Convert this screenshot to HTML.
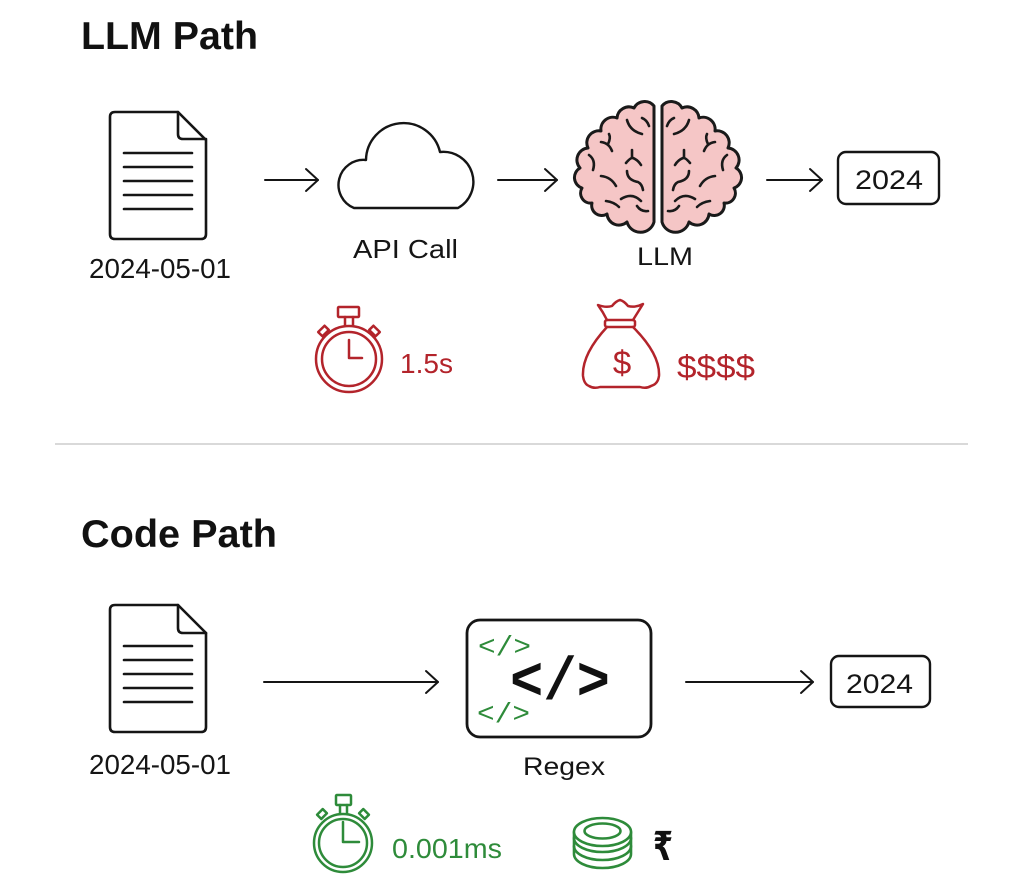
<!DOCTYPE html>
<html>
<head>
<meta charset="utf-8">
<style>
  html,body{margin:0;padding:0;background:#fff;}
  svg{display:block;}
  text{font-family:"Liberation Sans",Arial,sans-serif;}
</style>
</head>
<body>
<svg width="1025" height="888" viewBox="0 0 1025 888" xmlns="http://www.w3.org/2000/svg">
  <rect width="1025" height="888" fill="#ffffff"/>

  <!-- Headings -->
  <text x="81" y="49" font-size="39" font-weight="bold" fill="#111" textLength="177" lengthAdjust="spacingAndGlyphs">LLM Path</text>
  <text x="81" y="547" font-size="39" font-weight="bold" fill="#111" textLength="196" lengthAdjust="spacingAndGlyphs">Code Path</text>

  <!-- Divider -->
  <line x1="55" y1="444" x2="968" y2="444" stroke="#d9d9d9" stroke-width="2"/>

  <!-- ===== LLM PATH ===== -->
  <!-- Document -->
  <g fill="#fff" stroke="#151515" stroke-width="2.6" stroke-linejoin="round" stroke-linecap="round">
    <path d="M110 117 Q110 112 115 112 H178 L206 140 V234 Q206 239 201 239 H115 Q110 239 110 234 Z"/>
    <path d="M178 112 V134 Q178 139 183 139 H206" fill="none"/>
    <g fill="none">
      <line x1="124" y1="153" x2="192" y2="153"/>
      <line x1="124" y1="167" x2="192" y2="167"/>
      <line x1="124" y1="181" x2="192" y2="181"/>
      <line x1="124" y1="195" x2="192" y2="195"/>
      <line x1="124" y1="209" x2="192" y2="209"/>
    </g>
  </g>
  <text x="89" y="278" font-size="28" fill="#151515" textLength="142" lengthAdjust="spacingAndGlyphs">2024-05-01</text>

  <!-- Arrow 1 -->
  <g stroke="#151515" stroke-width="2" fill="none" stroke-linecap="round" stroke-linejoin="round">
    <line x1="265" y1="180" x2="318" y2="180"/>
    <polyline points="306,169 318,180 306,191"/>
  </g>

  <!-- Cloud -->
  <path d="M354 208 H458 A30 30 0 0 0 440 152 A37.5 37.5 0 0 0 366 160 A25 25 0 0 0 354 208 Z"
        fill="#fff" stroke="#151515" stroke-width="2.4" stroke-linejoin="round"/>
  <text x="353" y="258" font-size="26" fill="#151515" textLength="105" lengthAdjust="spacingAndGlyphs">API Call</text>

  <!-- Arrow 2 -->
  <g stroke="#151515" stroke-width="2" fill="none" stroke-linecap="round" stroke-linejoin="round">
    <line x1="498" y1="180" x2="557" y2="180"/>
    <polyline points="545,169 557,180 545,191"/>
  </g>

  <!-- Brain -->
  <g id="hemi">
    <path d="M654 106
             A12 12 0 0 0 634 108
             A12 12 0 0 0 617 118
             A12 12 0 0 0 601 131
             A12 12 0 0 0 588 148
             A12 12 0 0 0 580 168
             A11 11 0 0 0 582 188
             A10 10 0 0 0 592 203
             A10 10 0 0 0 607 214
             A12 12 0 0 0 627 222
             A14 14 0 0 0 654 222 Z"
          fill="#f5c6c6" stroke="#1a1a1a" stroke-width="3" stroke-linejoin="round"/>
    <g fill="none" stroke="#1a1a1a" stroke-width="2.6" stroke-linecap="round" stroke-linejoin="round">
      <path d="M627 120 Q630 131 642 134"/>
      <path d="M642 118 Q647 120 649 126"/>
      <path d="M601 142 Q609 143 612 151"/>
      <path d="M608 144 Q611 138 609 134"/>
      <path d="M626 163 Q631 157 633 158 Q638 160 641 165"/>
      <path d="M632 158 V150"/>
      <path d="M627 171 Q627 180 638 182 Q642 184 643 190"/>
      <path d="M601 176 Q611 177 616 186"/>
      <path d="M589 155 Q596 160 593 170"/>
      <path d="M621 199 Q632 192 641 201"/>
      <path d="M606 201 Q614 202 619 207"/>
      <path d="M637 206 Q641 212 648 211"/>
    </g>
  </g>
  <use href="#hemi" transform="translate(1316,0) scale(-1,1)"/>
  <text x="637" y="265" font-size="25" fill="#151515" textLength="56" lengthAdjust="spacingAndGlyphs">LLM</text>

  <!-- Arrow 3 -->
  <g stroke="#151515" stroke-width="2" fill="none" stroke-linecap="round" stroke-linejoin="round">
    <line x1="767" y1="180" x2="822" y2="180"/>
    <polyline points="810,169 822,180 810,191"/>
  </g>

  <!-- Output box -->
  <rect x="838" y="152" width="101" height="52" rx="8" ry="8" fill="#fff" stroke="#151515" stroke-width="2.4"/>
  <text x="855" y="189" font-size="27" fill="#151515" textLength="68" lengthAdjust="spacingAndGlyphs">2024</text>

  <!-- Red stopwatch -->
  <g fill="none" stroke="#b3242b" stroke-width="2.5" stroke-linecap="round" stroke-linejoin="round">
    <circle cx="349" cy="359" r="33"/>
    <circle cx="349" cy="359" r="27"/>
    <rect x="338" y="307" width="21" height="10" rx="1"/>
    <line x1="345" y1="317" x2="345" y2="326"/>
    <line x1="353" y1="317" x2="353" y2="326"/>
    <rect x="319" y="328" width="9" height="6" transform="rotate(-45 323.5 331)"/>
    <rect x="370" y="328" width="9" height="6" transform="rotate(45 374.5 331)"/>
    <polyline points="349,340 349,358 362,358"/>
  </g>
  <text x="400" y="373" font-size="28" fill="#b3242b" textLength="53" lengthAdjust="spacingAndGlyphs">1.5s</text>

  <!-- Money bag -->
  <g fill="none" stroke="#b3242b" stroke-width="2.5" stroke-linecap="round" stroke-linejoin="round">
    <path d="M607 320 Q603 312 598 305 Q606 308 612 306 Q616 301 620 300 Q624 301 628 306 Q635 308 643 304 Q638 312 633 320"/>
    <rect x="605" y="320" width="30" height="7" rx="2"/>
    <path d="M607 327 C595 340 582 358 583 376 Q584 384 589 386 Q594 389 600 387 L640 387 Q646 389 651 386 Q658 384 659 376 C660 358 646 340 633 327"/>
  </g>
  <text x="622" y="374" font-size="33" fill="#b3242b" text-anchor="middle">$</text>
  <text x="677" y="378" font-size="32" fill="#b3242b" textLength="78" lengthAdjust="spacingAndGlyphs">$$$$</text>

  <!-- ===== CODE PATH ===== -->
  <!-- Document -->
  <g fill="#fff" stroke="#151515" stroke-width="2.6" stroke-linejoin="round" stroke-linecap="round">
    <path d="M110 610 Q110 605 115 605 H178 L206 633 V727 Q206 732 201 732 H115 Q110 732 110 727 Z"/>
    <path d="M178 605 V628 Q178 633 183 633 H206" fill="none"/>
    <g fill="none">
      <line x1="124" y1="646" x2="192" y2="646"/>
      <line x1="124" y1="660" x2="192" y2="660"/>
      <line x1="124" y1="674" x2="192" y2="674"/>
      <line x1="124" y1="688" x2="192" y2="688"/>
      <line x1="124" y1="702" x2="192" y2="702"/>
    </g>
  </g>
  <text x="89" y="774" font-size="28" fill="#151515" textLength="142" lengthAdjust="spacingAndGlyphs">2024-05-01</text>

  <!-- Long arrow -->
  <g stroke="#151515" stroke-width="2" fill="none" stroke-linecap="round" stroke-linejoin="round">
    <line x1="264" y1="682" x2="438" y2="682"/>
    <polyline points="426,671 438,682 426,693"/>
  </g>

  <!-- Regex box -->
  <rect x="467" y="620" width="184" height="117" rx="13" ry="13" fill="#fff" stroke="#151515" stroke-width="2.8"/>
  <text x="478" y="655" font-size="28" fill="#2e8b3a" textLength="53" lengthAdjust="spacingAndGlyphs" style="font-family:'Liberation Mono',monospace">&lt;/&gt;</text>
  <text x="477" y="722" font-size="28" fill="#2e8b3a" textLength="53" lengthAdjust="spacingAndGlyphs" style="font-family:'Liberation Mono',monospace">&lt;/&gt;</text>
  <text x="510" y="699" font-size="60" font-weight="bold" fill="#111" textLength="100" lengthAdjust="spacingAndGlyphs" style="font-family:'Liberation Mono',monospace">&lt;/&gt;</text>
  <text x="523" y="775" font-size="25" fill="#151515" textLength="82" lengthAdjust="spacingAndGlyphs">Regex</text>

  <!-- Arrow to output -->
  <g stroke="#151515" stroke-width="2" fill="none" stroke-linecap="round" stroke-linejoin="round">
    <line x1="686" y1="682" x2="813" y2="682"/>
    <polyline points="801,671 813,682 801,693"/>
  </g>

  <!-- Output box -->
  <rect x="831" y="656" width="99" height="51" rx="8" ry="8" fill="#fff" stroke="#151515" stroke-width="2.4"/>
  <text x="846" y="693" font-size="27" fill="#151515" textLength="67" lengthAdjust="spacingAndGlyphs">2024</text>

  <!-- Green stopwatch -->
  <g fill="none" stroke="#2e8b3a" stroke-width="2.5" stroke-linecap="round" stroke-linejoin="round">
    <circle cx="343" cy="843" r="29"/>
    <circle cx="343" cy="843" r="24"/>
    <rect x="336" y="795" width="15" height="10" rx="1"/>
    <line x1="340" y1="805" x2="340" y2="814"/>
    <line x1="347" y1="805" x2="347" y2="814"/>
    <rect x="318" y="811" width="8" height="6" transform="rotate(-45 322 814)"/>
    <rect x="360" y="811" width="8" height="6" transform="rotate(45 364 814)"/>
    <polyline points="343,822 343,842 359,842"/>
  </g>
  <text x="392" y="858" font-size="28" fill="#2e8b3a" textLength="110" lengthAdjust="spacingAndGlyphs">0.001ms</text>

  <!-- Coins -->
  <g fill="none" stroke="#2e8b3a" stroke-width="2.6" stroke-linecap="round" stroke-linejoin="round">
    <path d="M574 832 V854 A28.5 14 0 0 0 631 854 V832"/>
    <path d="M574 838 A28.5 14 0 0 0 631 838"/>
    <path d="M574 846 A28.5 14 0 0 0 631 846"/>
    <ellipse cx="602.5" cy="832" rx="28.5" ry="14" fill="#fff"/>
    <ellipse cx="602.5" cy="831" rx="18" ry="7.5"/>
  </g>
  <text x="653" y="860" font-size="40" font-weight="bold" fill="#111" textLength="20" lengthAdjust="spacingAndGlyphs" style="font-family:'DejaVu Sans','Liberation Sans',sans-serif">₹</text>
</svg>
</body>
</html>
